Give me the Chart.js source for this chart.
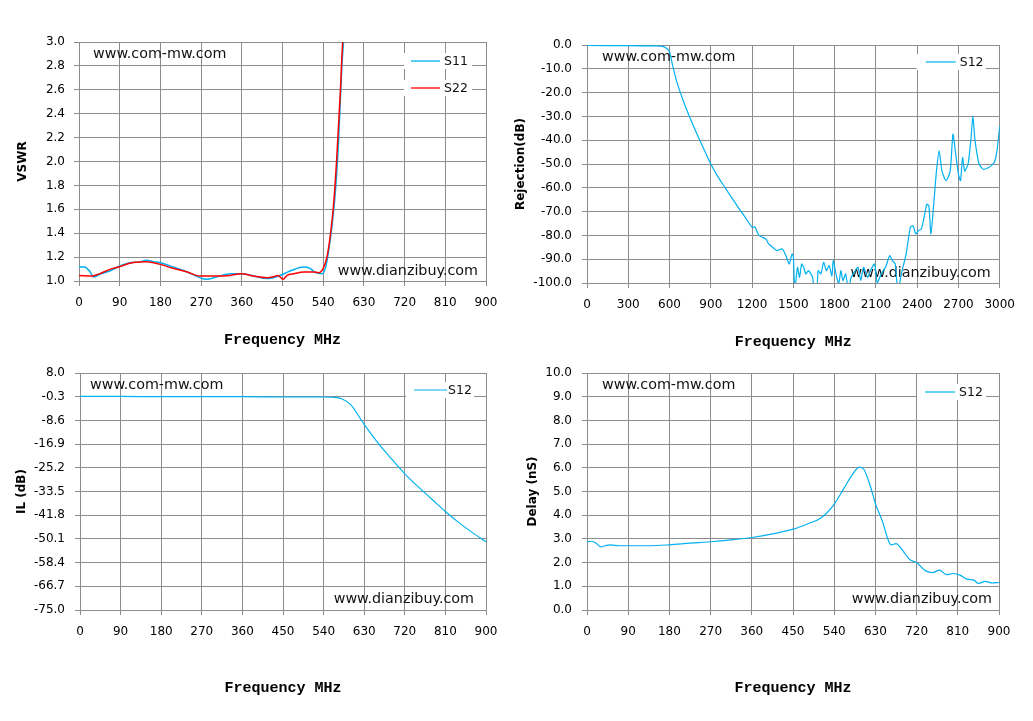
<!DOCTYPE html>
<html><head><meta charset="utf-8">
<script src="https://cdn.jsdelivr.net/npm/chart.js@4.4.1/dist/chart.umd.min.js"></script>
<style>
html,body{margin:0;padding:0;background:#fff;}
#wrap{position:relative;width:1033px;height:721px;overflow:hidden;background:#fff;}
.c{position:absolute;}
</style></head><body>
<div id="wrap">
<div class="c" style="left:0px;top:22px;width:510px;height:330px"><canvas id="c1"></canvas></div>
<div class="c" style="left:505px;top:25px;width:520px;height:329px"><canvas id="c2"></canvas></div>
<div class="c" style="left:0px;top:353px;width:510px;height:347px"><canvas id="c3"></canvas></div>
<div class="c" style="left:505px;top:353px;width:518px;height:347px"><canvas id="c4"></canvas></div>
</div>
<script>
// ---------- DATA ----------
const X_TICKS_900 = [0,90,180,270,360,450,540,630,720,810,900];
const X_TICKS_3000 = [0,300,600,900,1200,1500,1800,2100,2400,2700,3000];
const VSWR_TICKS = [1.0,1.2,1.4,1.6,1.8,2.0,2.2,2.4,2.6,2.8,3.0];
const REJ_TICKS = [-100,-90,-80,-70,-60,-50,-40,-30,-20,-10,0];
const IL_TICKS = [-75.0,-66.7,-58.4,-50.1,-41.8,-33.5,-25.2,-16.9,-8.6,-0.3,8.0];
const DLY_TICKS = [0,1,2,3,4,5,6,7,8,9,10];

const S11_FREQ = [0,12,24,32,46,68,90,112,134,149,164,180,208,238,267,282,304,334,359,386,415,430,451,471,497,511,522,537,545,552,559,567,574,581,585,592];
const S11_VSWR = [1.117,1.117,1.08,1.033,1.056,1.084,1.125,1.153,1.16,1.173,1.162,1.153,1.117,1.078,1.028,1.014,1.033,1.061,1.061,1.042,1.02,1.028,1.056,1.09,1.117,1.106,1.072,1.061,1.11,1.25,1.446,1.752,2.17,2.78,3.0,3.3];

const S22_FREQ = [0,30,45,68,90,112,134,150,165,180,208,238,267,282,304,334,359,386,415,430,440,451,460,475,497,520,530,540,548,555,563,570,578,583,590];
const S22_VSWR = [1.047,1.042,1.06,1.097,1.12,1.148,1.159,1.162,1.153,1.139,1.106,1.078,1.042,1.042,1.042,1.047,1.061,1.042,1.028,1.036,1.047,1.014,1.047,1.061,1.075,1.075,1.07,1.106,1.195,1.362,1.64,2.03,2.59,3.0,3.3];

const REJ_FREQ = [0,300,500,550,580,600,620,650,700,750,800,850,900,950,1000,1050,1100,1150,1200,1220,1250,1300,1320,1350,1380,1420,1450,1470,1490,1500,1510,1530,1545,1560,1575,1590,1610,1640,1650,1670,1680,1700,1720,1740,1760,1780,1790,1810,1830,1845,1860,1880,1900,1920,1950,1970,1990,2010,2040,2060,2090,2110,2140,2170,2200,2220,2240,2260,2290,2320,2350,2370,2390,2410,2430,2450,2470,2485,2500,2520,2540,2560,2580,2610,2640,2660,2680,2700,2715,2730,2745,2770,2790,2805,2820,2850,2880,2920,2960,2980,3000];
const REJ_S12 = [-0.2,-0.3,-0.4,-0.6,-1.5,-2.8,-8,-15,-23.5,-30.8,-37.5,-43.8,-50,-55.2,-59.6,-64,-68.3,-72.4,-76.6,-76.4,-80,-81.5,-83.6,-85,-86.4,-85.7,-89.2,-92,-87.8,-89,-103,-93.4,-97.6,-92,-93.4,-96.2,-94.8,-97.6,-103,-104,-94.8,-96.2,-91.3,-94.8,-92.7,-97,-90.6,-96.2,-100.3,-94.8,-99,-96.2,-103,-97.6,-94.8,-93.4,-99,-93.4,-97.6,-94.8,-92,-100,-96,-93.4,-88.5,-90.6,-92,-103,-94.8,-87.8,-76.6,-76,-79.4,-78,-77.3,-72.4,-66.9,-67.6,-79.4,-67,-53,-44.5,-53,-57,-53,-37.5,-45.9,-54.3,-57,-47.3,-53,-50,-40,-29.8,-40,-50,-52.2,-51.5,-49.4,-44.5,-34];

const IL_FREQ = [0,90,180,270,360,450,540,560,580,600,630,660,690,720,750,780,810,840,870,900];
const IL_S12 = [-0.2,-0.2,-0.3,-0.3,-0.3,-0.4,-0.4,-0.5,-1.0,-3.1,-10,-16.4,-22,-27.3,-31.9,-36.2,-40.5,-44.4,-47.9,-51.1];

const DLY_FREQ = [0,10,20,30,40,50,70,90,135,180,225,270,315,360,405,450,480,510,540,560,580,595,605,620,630,645,660,665,675,690,705,720,740,755,770,785,800,815,830,845,855,870,885,900];
const DLY_S12 = [2.88,2.9,2.82,2.66,2.71,2.75,2.71,2.71,2.71,2.75,2.82,2.88,2.96,3.06,3.21,3.41,3.62,3.87,4.46,5.09,5.72,6.03,5.93,5.16,4.49,3.76,2.85,2.75,2.8,2.5,2.13,2.0,1.65,1.58,1.68,1.49,1.54,1.47,1.3,1.26,1.12,1.21,1.14,1.16];

// ---------- STYLE / HELPERS ----------
const SANS = '"DejaVu Sans", "Liberation Sans", sans-serif';
const MONO = '"Liberation Mono", "DejaVu Sans Mono", monospace';
const GRID = '#8c8c8c';
const BLUE = '#00b0f0';
const RED = '#ff0000';

function pts(xs, ys){ return xs.map((x,i)=>({x:x, y:ys[i]})); }

const overlay = {
  id:'overlay',
  beforeDatasetsDraw(chart, args, o){
    const ctx = chart.ctx, a = chart.chartArea;
    ctx.save();
    ctx.fillStyle = '#ffffff';
    o.legend.forEach(e=>{
      ctx.fillRect(a.right - o.boxL, a.top + e.dy - 8, o.boxL - o.boxR, 16);
    });
    o.legend.forEach(e=>{
      const y = a.top + e.dy;
      ctx.strokeStyle = e.color; ctx.lineWidth = e.w || 1.3;
      ctx.beginPath(); ctx.moveTo(a.right - o.lineL, y); ctx.lineTo(a.right - o.lineR, y); ctx.stroke();
      ctx.fillStyle = '#111'; ctx.font = '12.5px ' + SANS;
      ctx.textAlign = 'left'; ctx.textBaseline = 'middle';
      ctx.fillText(e.label, a.right - o.textL, y + 1);
    });
    ctx.fillStyle = '#111'; ctx.font = '14.3px ' + SANS; ctx.textBaseline = 'middle';
    ctx.textAlign = 'left';
    ctx.fillText('www.com-mw.com', a.left + o.wm1[0], a.top + o.wm1[1]);
    ctx.textAlign = 'right';
    ctx.fillText('www.dianzibuy.com', a.right - o.wm2[0], a.bottom - o.wm2[1]);
    ctx.restore();
  }
};

function makeChart(id, cfg){
  return new Chart(document.getElementById(id), {
    type:'line',
    data:{ datasets: cfg.datasets },
    plugins:[overlay],
    options:{
      responsive:true, maintainAspectRatio:false, animation:false,
      layout:{ padding:{ top:20, right:24, bottom:0, left:0 } },
      elements:{ point:{ radius:0, hoverRadius:0 } },
      plugins:{ legend:{display:false}, tooltip:{enabled:false}, overlay: cfg.overlay },
      scales:{
        x:{
          type:'linear', min:cfg.xTicks[0], max:cfg.xTicks[cfg.xTicks.length-1],
          afterBuildTicks: s=>{ s.ticks = cfg.xTicks.map(v=>({value:v})); },
          afterFit: s=>{ s.height = cfg.xH; },
          ticks:{ color:'#000', font:{family:SANS, size:12}, padding:10, maxRotation:0, autoSkip:false, callback:v=>String(v) },
          grid:{ color:GRID, lineWidth:1, tickLength:5, tickColor:GRID },
          border:{ color:GRID, width:1 },
          title:{ display:true, text:'Frequency MHz', color:'#000', font:{family:MONO, size:15, weight:'bold'}, padding:{top:0,bottom:3} }
        },
        y:{
          type:'linear', min:cfg.yTicks[0], max:cfg.yTicks[cfg.yTicks.length-1],
          afterBuildTicks: s=>{ s.ticks = cfg.yTicks.map(v=>({value:v})); },
          afterFit: s=>{ s.width = cfg.yW; },
          ticks:{ color:'#000', font:{family:SANS, size:12}, padding:cfg.yPad, autoSkip:false, callback:v=>Number(v).toFixed(1) },
          grid:{ color:GRID, lineWidth:1, tickLength:5, tickColor:GRID },
          border:{ color:GRID, width:1 },
          title:{ display:true, text:cfg.yTitle, color:'#000', font:{family:SANS, size:12, weight:'bold'}, padding:{top:cfg.yTitlePad, bottom:0} }
        }
      }
    }
  });
}

makeChart('c1', {
  xTicks:X_TICKS_900, yTicks:VSWR_TICKS, xH:71, yW:79, yPad:9, yTitle:'VSWR', yTitlePad:16,
  datasets:[
    { label:'S11', data:pts(S11_FREQ,S11_VSWR), borderColor:BLUE, borderWidth:1.5, cubicInterpolationMode:'monotone', order:1 },
    { label:'S22', data:pts(S22_FREQ,S22_VSWR), borderColor:RED, borderWidth:1.5, cubicInterpolationMode:'monotone', order:0 }
  ],
  overlay:{ boxL:82, boxR:14, lineL:75, lineR:46, textL:42, wm1:[14,12], wm2:[8,10],
    legend:[ {label:'S11', color:BLUE, dy:19}, {label:'S22', color:RED, dy:46} ] }
});

makeChart('c2', {
  xTicks:X_TICKS_3000, yTicks:REJ_TICKS, xH:71, yW:82, yPad:10, yTitle:'Rejection(dB)', yTitlePad:9,
  datasets:[
    { label:'S12', data:pts(REJ_FREQ,REJ_S12), borderColor:BLUE, borderWidth:1.2, tension:0.2 }
  ],
  overlay:{ boxL:83, boxR:14, lineL:74, lineR:44, textL:40, wm1:[15,12], wm2:[9,10],
    legend:[ {label:'S12', color:BLUE, dy:17, w:1.2} ] }
});

makeChart('c3', {
  xTicks:X_TICKS_900, yTicks:IL_TICKS, xH:90, yW:80, yPad:10, yTitle:'IL (dB)', yTitlePad:15,
  datasets:[
    { label:'S12', data:pts(IL_FREQ,IL_S12), borderColor:BLUE, borderWidth:1.2, cubicInterpolationMode:'monotone' }
  ],
  overlay:{ boxL:80, boxR:12, lineL:72, lineR:39, textL:38, wm1:[10,12], wm2:[12,11],
    legend:[ {label:'S12', color:BLUE, dy:17, w:1.2} ] }
});

makeChart('c4', {
  xTicks:X_TICKS_900, yTicks:DLY_TICKS, xH:90, yW:82, yPad:10, yTitle:'Delay (nS)', yTitlePad:21,
  datasets:[
    { label:'S12', data:pts(DLY_FREQ,DLY_S12), borderColor:BLUE, borderWidth:1.2, cubicInterpolationMode:'monotone' }
  ],
  overlay:{ boxL:82, boxR:13, lineL:74, lineR:44, textL:40, wm1:[15,12], wm2:[7,11],
    legend:[ {label:'S12', color:BLUE, dy:19, w:1.2} ] }
});
</script>
</body></html>
